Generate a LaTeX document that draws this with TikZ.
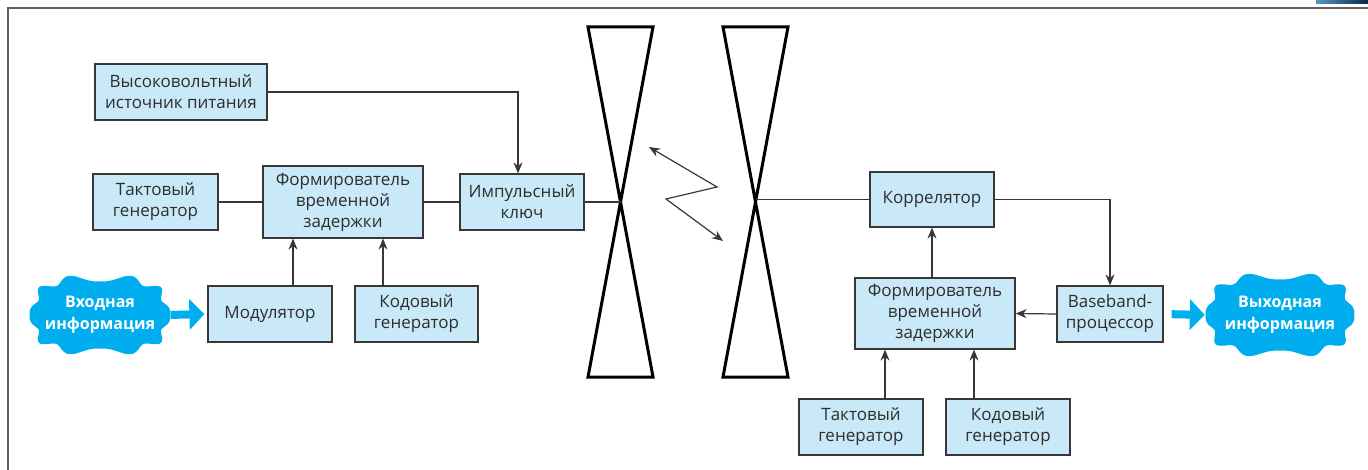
\documentclass[tikz,border=0pt]{standalone}
\usepackage{fontspec}
\setmainfont{Open Sans}
\usetikzlibrary{arrows.meta}
\definecolor{boxfill}{RGB}{201,233,248}
\definecolor{boxline}{RGB}{55,55,55}
\definecolor{txt}{RGB}{45,45,45}
\definecolor{cblue}{RGB}{0,174,239}
\definecolor{framegray}{RGB}{95,95,95}
\definecolor{tabL}{RGB}{90,150,190}
\definecolor{tabR}{RGB}{5,40,70}
\newcommand{\wavyblob}[4]{\fill[cblue] plot[domain=1:361,samples=181,smooth,variable=\t]
 ({#1+(#3+3.5*cos(10*\t))*sign(cos(\t))*pow(abs(cos(\t)),0.7)},
  {#2+(#4+3.5*cos(10*\t))*sign(sin(\t))*pow(abs(sin(\t)),0.7)}) -- cycle;}
\begin{document}
\begin{tikzpicture}[x=1pt,y=-1pt,
 box/.style={draw=boxline, fill=boxfill, line width=1.2pt, inner sep=0pt, align=center, text=txt, font=\fontsize{17}{21}\selectfont},
 cloudtext/.style={inner sep=0pt, align=center, text=white, font=\bfseries\fontsize{16}{22}\selectfont},
 wire/.style={draw=boxline, line width=1.2pt},
 arr/.style={wire, -{Stealth[length=11pt,width=9pt]}},
 dblarr/.style={wire, {Stealth[length=11pt,width=9pt]}-{Stealth[length=11pt,width=9pt]}},
 big/.style={draw=cblue, line width=8pt, -{Triangle[length=15pt,width=30pt]}},
 ant/.style={draw=black, line width=3pt, line join=miter},
]
\useasboundingbox (0,0) rectangle (1368,470);
% frame
\draw[framegray, line width=1.6pt] (1368,8) -- (8,8) -- (8,470);
\shade[left color=tabL, right color=tabR] (1316,0) rectangle (1368,4);

% left side boxes
\node[box, minimum width=172pt, minimum height=56pt] (hv) at (181,92) {Высоковольтный\\источник питания};
\node[box, minimum width=125pt, minimum height=56pt] (tak1) at (155.5,202) {Тактовый\\генератор};
\node[box, minimum width=160pt, minimum height=72pt] (form1) at (343,202) {Формирователь\\временной\\задержки};
\node[box, minimum width=124pt, minimum height=56pt] (key) at (522,202) {Импульсный\\ключ};
\node[box, minimum width=124pt, minimum height=56pt] (mod) at (270,314) {Модулятор};
\node[box, minimum width=123pt, minimum height=56pt] (kod1) at (416.5,314) {Кодовый\\генератор};

% right side boxes
\node[box, minimum width=124pt, minimum height=55pt] (corr) at (932,199.5) {Коррелятор};
\node[box, minimum width=160pt, minimum height=71pt] (form2) at (935,313.5) {Формирователь\\временной\\задержки};
\node[box, minimum width=106pt, minimum height=56pt] (bb) at (1110,314) {Baseband-\\процессор};
\node[box, minimum width=124pt, minimum height=56pt] (tak2) at (861,427) {Тактовый\\генератор};
\node[box, minimum width=124pt, minimum height=56pt] (kod2) at (1008,427) {Кодовый\\генератор};

% clouds
\wavyblob{100}{315}{67}{37}
\node[cloudtext, minimum width=137pt, minimum height=76pt] (in) at (100,315) {Входная\\информация};
\wavyblob{1280}{315}{71}{39}
\node[cloudtext, minimum width=144pt, minimum height=80pt] (out) at (1280,315) {Выходная\\информация};

% antennas
\coordinate (a1) at (620.5,202);
\coordinate (a2) at (755.5,199.5);
\draw[ant] (588,27) -- (653,27) -- (588,377) -- (653,377) -- cycle;
\draw[ant] (723,27) -- (788,27) -- (723,377) -- (788,377) -- cycle;

% zigzag
\coordinate (z1) at (649,147);
\coordinate (z2) at (717,187);
\coordinate (z3) at (666,199);
\coordinate (z4) at (723,241);
\draw[dblarr] (z1) -- (z2) -- (z3) -- (z4);

% left connectors
\draw[arr] (hv.east) -| ([xshift=-4pt]key.north);
\draw[wire] (tak1.east) -- (form1.west);
\draw[wire] (form1.east) -- (key.west);
\draw[wire] (key.east) -- (a1);
\draw[arr] ([xshift=23pt]mod.north) -- ([xshift=23pt]mod.north |- form1.south);
\draw[arr] ([xshift=-33.5pt]kod1.north) -- ([xshift=-33.5pt]kod1.north |- form1.south);
\draw[big, shorten <=2pt, shorten >=3pt] (in.east) -- (mod.west);

% right connectors
\draw[wire] (a2) -- (corr.west);
\draw[arr] (corr.east) -| (bb.north);
\draw[arr] (bb.west) -- (form2.east);
\draw[arr] (form2.north -| corr.south) -- (corr.south);
\draw[arr] ([xshift=24pt]tak2.north) -- ([xshift=24pt]tak2.north |- form2.south);
\draw[arr] ([xshift=-34pt]kod2.north) -- ([xshift=-34pt]kod2.north |- form2.south);
\draw[big, shorten <=8pt, shorten >=3pt] (bb.east) -- (out.west);
\end{tikzpicture}
\end{document}
